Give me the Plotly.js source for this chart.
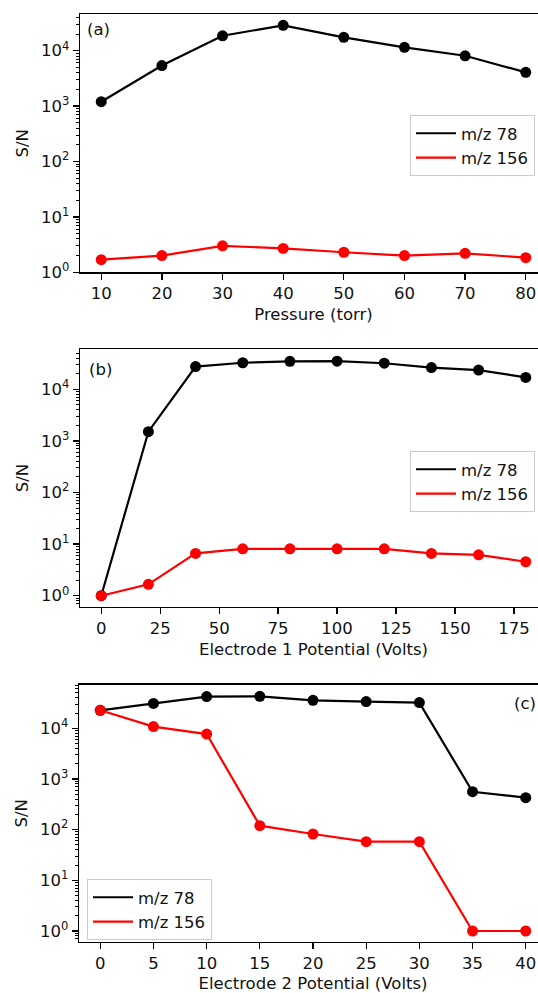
<!DOCTYPE html>
<html>
<head>
<meta charset="utf-8">
<script src="https://cdn.plot.ly/plotly-3.0.1.min.js"></script>
<style>
html, body { margin:0; padding:0; overflow:hidden; background:#fff; }
#chart { width:552px; height:993px; }
</style>
</head>
<body>
<div id="chart"></div>
<script>
// ---- data ----
const pressure = [10, 20, 30, 40, 50, 60, 70, 80];
const aMz78 = [1200, 5400, 18600, 28700, 17400, 11500, 8100, 4070];
const aMz156 = [1.69, 2.0, 3.0, 2.7, 2.3, 2.0, 2.2, 1.84];

const electrode1 = [0, 20, 40, 60, 80, 100, 120, 140, 160, 180];
const bMz78 = [1.0, 1510, 27500, 32700, 34800, 35000, 32000, 26300, 23600, 17000];
const bMz156 = [1.0, 1.66, 6.6, 8.1, 8.1, 8.1, 8.1, 6.6, 6.2, 4.55];

const electrode2 = [0, 5, 10, 15, 20, 25, 30, 35, 40];
const cMz78 = [22650, 31000, 42200, 42700, 35700, 33600, 32100, 560, 427];
const cMz156 = [22650, 10800, 7700, 120, 82, 58, 58, 1.0, 1.0];

const seriesNames = ['m/z 78', 'm/z 156'];
const panelLabels = ['(a)', '(b)', '(c)'];
const xTitles = ['Pressure (torr)', 'Electrode 1 Potential (Volts)', 'Electrode 2 Potential (Volts)'];
const yTitle = 'S/N';
const xTicksA = [10, 20, 30, 40, 50, 60, 70, 80];
const xTicksB = [0, 25, 50, 75, 100, 125, 150, 175];
const xTicksC = [0, 5, 10, 15, 20, 25, 30, 35, 40];
const yTickVals = [1, 10, 100, 1000, 10000];
const yTickText = ['10<sup>0</sup>', '10<sup>1</sup>', '10<sup>2</sup>', '10<sup>3</sup>', '10<sup>4</sup>'];

// ---- layout helpers ----
const W = 552, H = 993;
const FONT = 'DejaVu Sans, Liberation Sans, sans-serif';
const FS = 16.5;
const LW = 2.2, MS = 11;

const minorVals = [];
for (let e = -1; e <= 5; e++) {
  for (let m = 2; m <= 9; m++) minorVals.push(m * Math.pow(10, e));
}

function px(x) { return x / W; }
function py(y) { return 1 - y / H; }

const traces = [];
function addPanel(idx, xs, y78, y156) {
  const xa = idx === 0 ? 'x' : 'x' + (idx + 1);
  const ya = idx === 0 ? 'y' : 'y' + (idx + 1);
  const lg = idx === 0 ? 'legend' : 'legend' + (idx + 1);
  const colors = ['#000000', '#ff0000'];
  [y78, y156].forEach((ys, k) => {
    traces.push({
      x: xs, y: ys, xaxis: xa, yaxis: ya, type: 'scatter', mode: 'lines',
      name: seriesNames[k], legend: lg,
      line: { color: colors[k], width: LW }, hoverinfo: 'skip'
    });
    traces.push({
      x: xs, y: ys, xaxis: xa, yaxis: ya, type: 'scatter', mode: 'markers',
      name: seriesNames[k], showlegend: false,
      marker: { color: colors[k], size: MS }, hoverinfo: 'skip'
    });
  });
}
addPanel(0, pressure, aMz78, aMz156);
addPanel(1, electrode1, bMz78, bMz156);
addPanel(2, electrode2, cMz78, cMz156);

// pixel geometry of each panel: [left, right, top, bottom]
const boxes = [
  [80, 547, 14.3, 272.3],
  [80, 547, 349.3, 606.7],
  [79, 547, 684.7, 942]
];
const xRanges = [[6.5, 83.5], [-9, 189], [-2, 42]];
const yRanges = [[0, 4.657], [-0.213, 4.775], [-0.217, 4.86]];
const xTicks = [xTicksA, xTicksB, xTicksC];

function xAxis(i) {
  const b = boxes[i];
  return {
    domain: [px(b[0]), px(b[1])],
    anchor: i === 0 ? 'y' : 'y' + (i + 1),
    range: xRanges[i],
    tickmode: 'array', tickvals: xTicks[i],
    ticks: 'outside', ticklen: 6, tickwidth: 1.3, tickcolor: '#000',
    showline: true, linecolor: '#000', linewidth: 1.3, mirror: true,
    showgrid: false, zeroline: false,
    tickfont: { family: FONT, size: FS, color: '#111' },
    title: { text: xTitles[i], font: { family: FONT, size: FS, color: '#111' }, standoff: 6 },
    automargin: false
  };
}
function yAxis(i) {
  const b = boxes[i];
  return {
    domain: [py(b[3]), py(b[2])],
    anchor: i === 0 ? 'x' : 'x' + (i + 1),
    type: 'log',
    range: yRanges[i],
    tickmode: 'array', tickvals: yTickVals, ticktext: yTickText,
    ticks: 'outside', ticklen: 6, tickwidth: 1.3, tickcolor: '#000',
    minor: { tickmode: 'array', tickvals: minorVals, ticks: 'outside', ticklen: 3.2, tickwidth: 1, tickcolor: '#000', showgrid: false },
    showline: true, linecolor: '#000', linewidth: 1.3, mirror: true,
    showgrid: false, zeroline: false,
    tickfont: { family: FONT, size: FS, color: '#111' },
    title: { text: yTitle, font: { family: FONT, size: FS, color: '#111' }, standoff: 8 },
    automargin: false
  };
}

const legendBase = {
  xanchor: 'left', yanchor: 'top',
  bgcolor: 'rgba(255,255,255,0.85)', bordercolor: '#cccccc', borderwidth: 1,
  font: { family: FONT, size: FS, color: '#111' },
  itemwidth: 40, tracegroupgap: 0
};

const layout = {
  width: W, height: H,
  margin: { l: 0, r: 0, t: 0, b: 0 },
  paper_bgcolor: '#fff', plot_bgcolor: '#fff',
  showlegend: true,
  font: { family: FONT, size: FS, color: '#111' },
  xaxis: xAxis(0), yaxis: yAxis(0),
  xaxis2: xAxis(1), yaxis2: yAxis(1),
  xaxis3: xAxis(2), yaxis3: yAxis(2),
  legend: Object.assign({}, legendBase, { x: px(410), y: py(115) }),
  legend2: Object.assign({}, legendBase, { x: px(410), y: py(451) }),
  legend3: Object.assign({}, legendBase, { x: px(87), y: py(879) }),
  annotations: [
    { text: panelLabels[0], xref: 'paper', yref: 'paper', x: px(98), y: py(30), showarrow: false, xanchor: 'center', yanchor: 'middle', font: { family: FONT, size: FS, color: '#111' } },
    { text: panelLabels[1], xref: 'paper', yref: 'paper', x: px(100), y: py(369), showarrow: false, xanchor: 'center', yanchor: 'middle', font: { family: FONT, size: FS, color: '#111' } },
    { text: panelLabels[2], xref: 'paper', yref: 'paper', x: px(525), y: py(703), showarrow: false, xanchor: 'center', yanchor: 'middle', font: { family: FONT, size: FS, color: '#111' } }
  ]
};

Plotly.newPlot('chart', traces, layout, { displayModeBar: false, staticPlot: true });
</script>
</body>
</html>
